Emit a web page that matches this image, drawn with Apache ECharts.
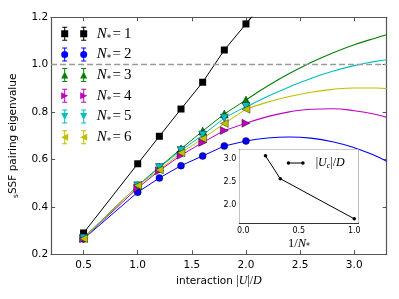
<!DOCTYPE html>
<html>
<head>
<meta charset="utf-8">
<script src="https://cdn.jsdelivr.net/npm/echarts@6/dist/echarts.min.js"></script>
<style>html,body{margin:0;padding:0;background:#fff}#c{width:399px;height:299px}</style>
</head>
<body>
<div id="c"></div>
<script>
// ---- data ----
const xMeas = [0.5, 1.0, 1.2, 1.4, 1.6, 1.8, 2.0];
const n1 = [0.290, 0.582, 0.698, 0.813, 0.926, 1.062, 1.172];
const n2 = [0.265, 0.462, 0.522, 0.574, 0.615, 0.657, 0.678];
const n3 = [0.270, 0.490, 0.568, 0.645, 0.720, 0.792, 0.851];
const n4 = [0.266, 0.480, 0.553, 0.618, 0.672, 0.722, 0.753];
const n5 = [0.268, 0.489, 0.566, 0.638, 0.703, 0.775, 0.824];
const n6 = [0.266, 0.490, 0.556, 0.628, 0.688, 0.752, 0.812];

const xFit1 = [2.0, 2.2];
const fit1 = [1.172, 1.285];
const xFit = [2.0, 2.2, 2.4, 2.6, 2.8, 3.0, 3.2, 3.3];
const fit2 = [0.678, 0.691, 0.695, 0.690, 0.675, 0.650, 0.615, 0.592];
const fit3 = [0.851, 0.910, 0.963, 1.009, 1.049, 1.084, 1.113, 1.126];
const fit4 = [0.753, 0.781, 0.801, 0.812, 0.814, 0.806, 0.790, 0.778];
const fit5 = [0.822, 0.866, 0.906, 0.942, 0.972, 0.996, 1.014, 1.021];
const fit6 = [0.812, 0.842, 0.866, 0.884, 0.896, 0.902, 0.902, 0.899];

const refLine = 1.0;

const invN = [0.2, 0.333, 1.0];
const Uc = [3.06, 2.57, 1.71];

const xTicks = [0.5, 1.0, 1.5, 2.0, 2.5, 3.0];
const yTicks = [0.2, 0.4, 0.6, 0.8, 1.0, 1.2];
const insetXTicks = [0.0, 0.5, 1.0];
const insetYTicks = [2.0, 2.5, 3.0];
const legendNums = ['1', '2', '3', '4', '5', '6'];

// ---- styling ----
const colors = ['#000000', '#0000ff', '#008000', '#bf00bf', '#00bfbf', '#bfbf00'];
const symbols = ['rect', 'circle', 'triangle', 'path://M0,0 L10,5 L0,10 Z',
                 'path://M0,0 L10,0 L5,10 Z', 'path://M10,0 L0,5 L10,10 Z'];
const symSizes = [7, 7, 8, 8, 8, 8];
const meas = [n1, n2, n3, n4, n5, n6];
const fits = [fit1, fit2, fit3, fit4, fit5, fit6];
const fitXs = [xFit1, xFit, xFit, xFit, xFit, xFit];

function zip(xs, ys) { return xs.map((x, i) => [x, ys[i]]); }

function bar(cx) {
  return `M${cx-0.5},0.5 L${cx+0.5},0.5 L${cx+0.5},13.5 L${cx-0.5},13.5 Z ` +
         `M${cx-2.5},0 L${cx+2.5},0 L${cx+2.5},1 L${cx-2.5},1 Z ` +
         `M${cx-2.5},13 L${cx+2.5},13 L${cx+2.5},14 L${cx-2.5},14 Z `;
}
function marker(k, cx) {
  const a = cx - 3.5, b = cx + 3.5;
  switch (k) {
    case 0: return `M${a},3.5 L${b},3.5 L${b},10.5 L${a},10.5 Z `;
    case 1: return `M${a},7 A3.5,3.5 0 1,1 ${b},7 A3.5,3.5 0 1,1 ${a},7 Z `;
    case 2: return `M${cx},3.5 L${b},10.5 L${a},10.5 Z `;
    case 3: return `M${a},3.5 L${b},7 L${a},10.5 Z `;
    case 4: return `M${a},3.5 L${b},3.5 L${cx},10.5 Z `;
    default: return `M${b},10.5 L${a},7 L${b},3.5 Z `;
  }
}
function legendIcon(k) {
  return 'path://' + bar(3.5) + bar(22.5) + marker(k, 3.5) + marker(k, 22.5);
}

const series = [];
for (let k = 0; k < 6; k++) {
  series.push({
    type: 'line', name: 'N' + (k + 1), xAxisIndex: 0, yAxisIndex: 0,
    data: zip(xMeas, meas[k]), symbol: symbols[k], symbolSize: symSizes[k],
    showAllSymbol: true, clip: true, z: 3,
    itemStyle: { color: colors[k], borderColor: '#000', borderWidth: k === 0 ? 0 : 0.4 },
    lineStyle: { color: colors[k], width: 1 },
    emphasis: { disabled: true }
  });
  series.push({
    type: 'line', name: 'fit' + (k + 1), xAxisIndex: 0, yAxisIndex: 0,
    data: zip(fitXs[k], fits[k]), symbol: 'none', smooth: true, clip: true, z: 2,
    lineStyle: { color: colors[k], width: 1.1 },
    emphasis: { disabled: true }
  });
}
series.push({
  type: 'line', name: 'ref', xAxisIndex: 0, yAxisIndex: 0, data: [], symbol: 'none', z: 1,
  markLine: {
    silent: true, symbol: 'none', label: { show: false },
    lineStyle: { color: '#9a9a9a', type: [6, 3], width: 1.3 },
    data: [{ yAxis: refLine }]
  }
});
series.push({
  type: 'line', name: 'Uc', xAxisIndex: 2, yAxisIndex: 2,
  data: zip(invN, Uc), symbol: 'circle', symbolSize: 3.5, showAllSymbol: true, z: 5,
  itemStyle: { color: '#000' }, lineStyle: { color: '#000', width: 1 },
  emphasis: { disabled: true }
});

const axisCol = '#555';
const tickFont = { fontFamily: 'DejaVu Sans', fontSize: 10.5, color: '#000' };
const smallFont = { fontFamily: 'DejaVu Sans', fontSize: 8, color: '#000' };

function mainX(pos, labels) {
  return {
    type: 'value', gridIndex: 0, position: pos, min: 0.2, max: 3.3,
    axisLine: { show: true, onZero: false, lineStyle: { color: axisCol, width: 1.2 } },
    axisTick: { show: true, inside: true, length: 4, customValues: xTicks, lineStyle: { color: axisCol } },
    axisLabel: Object.assign({ show: labels, customValues: xTicks, margin: 5,
      formatter: v => v.toFixed(1) }, tickFont),
    splitLine: { show: false }
  };
}
function mainY(pos, labels) {
  return {
    type: 'value', gridIndex: 0, position: pos, min: 0.2, max: 1.2, interval: 0.2,
    axisLine: { show: true, onZero: false, lineStyle: { color: axisCol, width: 1.2 } },
    axisTick: { show: true, inside: true, length: 4, lineStyle: { color: axisCol } },
    axisLabel: Object.assign({ show: labels, margin: 3, formatter: v => v.toFixed(1) }, tickFont),
    splitLine: { show: false }
  };
}
function insX(pos, labels) {
  return {
    type: 'value', gridIndex: 1, position: pos, min: -0.036, max: 1.04,
    axisLine: { show: true, onZero: false, lineStyle: { color: '#333', width: 1 } },
    axisTick: { show: true, inside: true, length: 3, customValues: insetXTicks, lineStyle: { color: '#333' } },
    axisLabel: Object.assign({ show: labels, customValues: insetXTicks, margin: 4,
      formatter: v => v.toFixed(1) }, smallFont),
    splitLine: { show: false }
  };
}
function insY(pos, labels) {
  return {
    type: 'value', gridIndex: 1, position: pos, min: 1.62, max: 3.2,
    axisLine: { show: true, onZero: false, lineStyle: { color: '#333', width: 1 } },
    axisTick: { show: true, inside: true, length: 3, customValues: insetYTicks, lineStyle: { color: '#333' } },
    axisLabel: Object.assign({ show: labels, customValues: insetYTicks, margin: 3,
      formatter: v => v.toFixed(1) }, smallFont),
    splitLine: { show: false }
  };
}

const xa0 = mainX('bottom', true);
xa0.name = '{t|interaction }{m||}{i|U}{m||/}{i|D}';
xa0.nameLocation = 'middle';
xa0.nameGap = 15;
xa0.nameTextStyle = { rich: {
  t: { fontFamily: 'DejaVu Sans', fontSize: 10.5, color: '#000' },
  m: { fontFamily: 'Liberation Serif', fontSize: 12, color: '#000' },
  i: { fontFamily: 'Liberation Serif', fontStyle: 'italic', fontSize: 12, color: '#000' }
}};
const ya0 = mainY('left', true);
ya0.name = '{s|s}{t|SSF pairing eigenvalue}';
ya0.nameLocation = 'middle';
ya0.nameGap = 28;
ya0.nameTextStyle = { rich: {
  s: { fontFamily: 'DejaVu Sans', fontSize: 7.5, color: '#000', verticalAlign: 'bottom', lineHeight: 14 },
  t: { fontFamily: 'DejaVu Sans', fontSize: 10.5, color: '#000', lineHeight: 14 }
}};
const xa2 = insX('bottom', true);
xa2.name = '{r|1/}{n|N}{s|*}';
xa2.nameLocation = 'middle';
xa2.nameGap = 13;
xa2.nameTextStyle = { rich: {
  r: { fontFamily: 'Liberation Serif', fontSize: 12.5, color: '#000', lineHeight: 15 },
  n: { fontFamily: 'Liberation Serif', fontStyle: 'italic', fontSize: 12.5, color: '#000', lineHeight: 15 },
  s: { fontFamily: 'DejaVu Sans', fontSize: 8, color: '#000', verticalAlign: 'bottom', lineHeight: 15 }
}};

const legendRich = {
  n: { fontFamily: 'Liberation Serif', fontStyle: 'italic', fontSize: 15, color: '#000', lineHeight: 18 },
  s: { fontFamily: 'DejaVu Sans', fontSize: 9, color: '#000', verticalAlign: 'bottom', lineHeight: 18 },
  e: { fontFamily: 'Liberation Serif', fontSize: 15, color: '#000', lineHeight: 18 }
};

const option = {
  animation: false,
  backgroundColor: '#fff',
  grid: [
    { left: 48.3, top: 17.3, right: 12.3, bottom: 44.7 },
    { left: 239.3, top: 149.3, width: 119.4, height: 73.7, show: true,
      backgroundColor: '#fff', borderWidth: 0, z: 4 }
  ],
  xAxis: [xa0, mainX('top', false), xa2, insX('top', false)],
  yAxis: [ya0, mainY('right', false), insY('left', true), insY('right', false)],
  legend: [
    {
      orient: 'vertical', left: 56.2, top: 21.2, itemWidth: 26, itemHeight: 14, itemGap: 4.2,
      selectedMode: false,
      data: legendNums.map((n, k) => ({ name: 'N' + n, icon: legendIcon(k),
        itemStyle: { color: colors[k], borderWidth: 0 } })),
      formatter: name => '{n|N}{s|*}{e|\u200a=\u2009' + name.slice(1) + '}',
      textStyle: { rich: legendRich, padding: [0, 0, 0, 4.5] }
    },
    {
      orient: 'vertical', left: 281.7, top: 152, itemWidth: 18, itemHeight: 4,
      selectedMode: false,
      data: [{ name: 'Uc', icon: 'path://M0,2 A1.8,1.8 0 1,1 3.6,2 A1.8,1.8 0 1,1 0,2 Z M14.4,2 A1.8,1.8 0 1,1 18,2 A1.8,1.8 0 1,1 14.4,2 Z M1.8,1.5 L16.2,1.5 L16.2,2.5 L1.8,2.5 Z',
        itemStyle: { color: '#000', borderWidth: 0 } }],
      formatter: () => '{a||}{u|U}{c|c}{a||/}{u|D}',
      textStyle: { padding: [0, 0, 0, 6], rich: {
        a: { fontFamily: 'Liberation Serif', fontSize: 12, color: '#000', lineHeight: 14 },
        u: { fontFamily: 'Liberation Serif', fontStyle: 'italic', fontSize: 12, color: '#000', lineHeight: 14 },
        c: { fontFamily: 'Liberation Serif', fontStyle: 'italic', fontSize: 8, color: '#000', verticalAlign: 'bottom', lineHeight: 14 }
      }}
    }
  ],
  series: series
};

const chart = echarts.init(document.getElementById('c'), null, { renderer: 'canvas' });
chart.setOption(option);
</script>
</body>
</html>
